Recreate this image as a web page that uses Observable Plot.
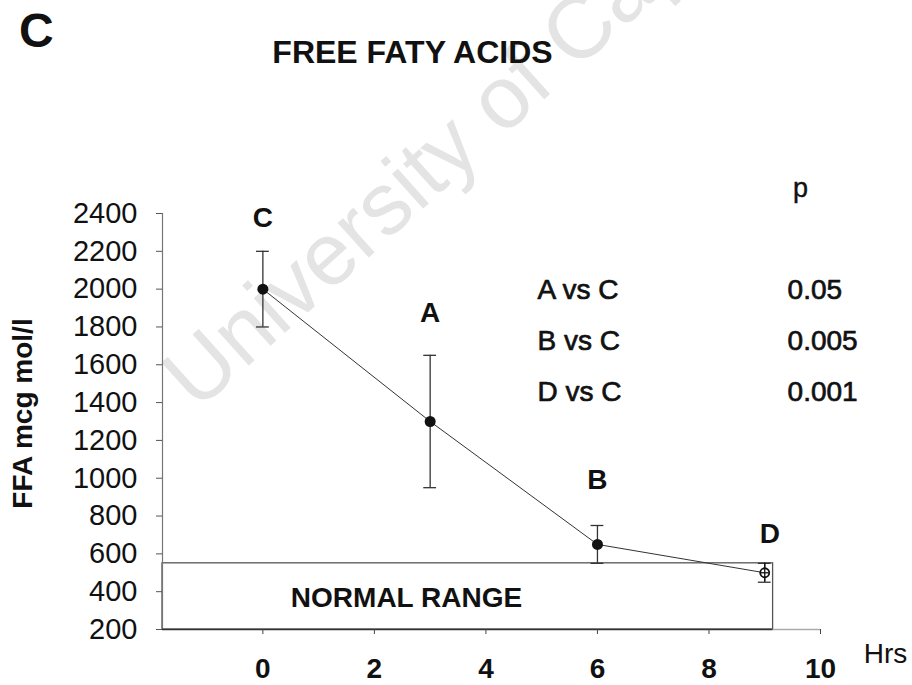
<!DOCTYPE html>
<html>
<head>
<meta charset="utf-8">
<script src="https://cdn.jsdelivr.net/npm/d3@7"></script>
<script src="https://cdn.jsdelivr.net/npm/@observablehq/plot@0.6"></script>
<style>
  body { margin: 0; background: #fff; }
  #wrap { position: relative; width: 912px; height: 685px; overflow: hidden;
          font-family: "Liberation Sans", Arial, sans-serif; color: #111; }
  #wm { position: absolute; left: 0; top: 0; z-index: 0; }
  #chart { position: absolute; left: 0; top: 0; z-index: 1; }
  .panel { position: absolute; left: 19px; top: 7px; font-size: 48px; font-weight: bold; line-height: 48px; z-index: 2; }
  .title { position: absolute; left: 0; width: 825px; top: 36px; text-align: center; z-index: 2;
           font-size: 32px; font-weight: bold; line-height: 32px; }
</style>
</head>
<body>
<div id="wrap">
  <svg id="wm" width="912" height="685">
    <text x="197" y="412" transform="rotate(-42 197 412)" font-family="Liberation Sans, Arial, sans-serif"
          font-size="88" fill="#e4e4e4">University of Cape Town</text>
  </svg>
  <div class="panel">C</div>
  <div class="title">FREE FATY ACIDS</div>
  <div id="chart"></div>
</div>
<script>
// ---- data ----
const times = [0, 3, 6, 9];                  // Hrs
const ffaMean = [2000, 1300, 650, 500];      // FFA mcg mol/l
const ffaLow = [1800, 950, 550, 450];        // lower error bar
const ffaHigh = [2200, 1650, 750, 550];      // upper error bar
const groupLabels = ["C", "A", "B", "D"];
const xTicks = [0, 2, 4, 6, 8, 10];
const yTicks = [200, 400, 600, 800, 1000, 1200, 1400, 1600, 1800, 2000, 2200, 2400];
const comparisons = ["A vs C", "B vs C", "D vs C"];
const pValues = ["0.05", "0.005", "0.001"];
const normalRangeLow = 200;
const normalRangeHigh = 550;
const normalRangeEndHrs = 9.15;

const xDomain = [-1.8, 10];
const yDomain = [200, 2400];

const data = times.map((t, i) => ({
  t, mean: ffaMean[i], lo: ffaLow[i], hi: ffaHigh[i], label: groupLabels[i]
}));
const normalRange = [{lo: normalRangeLow, hi: normalRangeHigh, end: normalRangeEndHrs}];

// annotation placement (data space)
const groupLabelY = [2374, 1871, 993, 707];
const statsY = [1994, 1724, 1454];

const ink = "#111";
const capHalf = 0.115;

const chart = Plot.plot({
  width: 912,
  height: 685,
  marginLeft: 162,
  marginRight: 92,
  marginTop: 213,
  marginBottom: 56,
  style: { background: "transparent", fontFamily: "Liberation Sans, Arial, sans-serif", color: ink, overflow: "visible" },
  x: { domain: xDomain },
  y: { domain: yDomain },
  marks: [
    // normal range box
    Plot.rect(normalRange, { x1: () => xDomain[0], x2: "end", y1: "lo", y2: "hi", fill: "none", stroke: "#555", strokeWidth: 1.3 }),
    // axis lines
    Plot.ruleX([xDomain[0]], { stroke: "#777", strokeWidth: 1.2 }),
    Plot.ruleY(normalRange, { y: "lo", x1: () => xDomain[0], x2: "end", stroke: "#333", strokeWidth: 1.4 }),
    Plot.ruleY(normalRange, { y: "lo", x1: "end", x2: () => xDomain[1], stroke: "#aaa", strokeWidth: 1.3 }),
    Plot.axisY({ ticks: yTicks, tickFormat: d => String(d), tickSize: 6, tickPadding: 19, fontSize: 29, label: null, stroke: "#555", fill: ink }),
    Plot.axisX({ ticks: xTicks, tickFormat: d => String(d), tickSize: 5, tickPadding: 24, fontSize: 28, fontWeight: "bold", label: null, stroke: "#444", fill: ink }),
    // y axis title
    Plot.text(["FFA mcg mol/l"], { frameAnchor: "left", textAnchor: "middle", lineAnchor: "middle", rotate: -90, dx: -139, dy: -8, fontSize: 28, fontWeight: "bold", fill: ink }),
    // x axis unit
    Plot.text(["Hrs"], { frameAnchor: "bottom-right", textAnchor: "middle", lineAnchor: "middle", dx: 65, dy: 25, fontSize: 28, fill: ink }),
    // connecting line
    Plot.line(data, { x: "t", y: "mean", stroke: "#333", strokeWidth: 1 }),
    // error bars
    Plot.ruleX(data, { x: "t", y1: "lo", y2: "hi", stroke: "#333", strokeWidth: 1.3 }),
    Plot.ruleY(data, { y: "hi", x1: d => d.t - capHalf, x2: d => d.t + capHalf, stroke: "#333", strokeWidth: 1.3 }),
    Plot.ruleY(data, { y: "lo", x1: d => d.t - capHalf, x2: d => d.t + capHalf, stroke: "#333", strokeWidth: 1.3 }),
    // points
    Plot.dot(data, { filter: d => d.label !== "D", x: "t", y: "mean", r: 5.5, fill: ink, stroke: "none" }),
    Plot.dot(data, { filter: d => d.label === "D", x: "t", y: "mean", r: 4.5, fill: "white", stroke: ink, strokeWidth: 1.8 }),
    Plot.ruleX(data, { filter: d => d.label === "D", x: "t", y1: "lo", y2: "hi", stroke: ink, strokeWidth: 1.3 }),
    Plot.ruleY(data, { filter: d => d.label === "D", y: "mean", x1: d => d.t - 0.08, x2: d => d.t + 0.08, stroke: ink, strokeWidth: 1.3 }),
    // group labels
    Plot.text(data, { x: "t", y: (d, i) => groupLabelY[i], text: "label", fontSize: 28, fontWeight: "bold", fill: ink,
      filter: d => d.label !== "D" }),
    Plot.text(data, { x: "t", y: (d, i) => groupLabelY[i], text: "label", dx: 5, fontSize: 28, fontWeight: "bold", fill: ink,
      filter: d => d.label === "D" }),
    // normal range label
    Plot.text(["NORMAL RANGE"], { x: () => 2.575, y: () => 364, fontSize: 28, fontWeight: "bold", fill: ink }),
    // statistics
    Plot.text(["p"], { x: () => 9.64, y: () => 2531, fontSize: 27, fill: ink, stroke: ink, strokeWidth: 0.4 }),
    Plot.text(comparisons, { x: () => 4.925, y: (d, i) => statsY[i], text: d => d, textAnchor: "start", fontSize: 28, fill: ink, stroke: ink, strokeWidth: 0.7 }),
    Plot.text(pValues, { x: () => 9.41, y: (d, i) => statsY[i], text: d => d, textAnchor: "start", fontSize: 28, fill: ink, stroke: ink, strokeWidth: 0.7 })
  ]
});
document.getElementById("chart").appendChild(chart);
</script>
</body>
</html>
